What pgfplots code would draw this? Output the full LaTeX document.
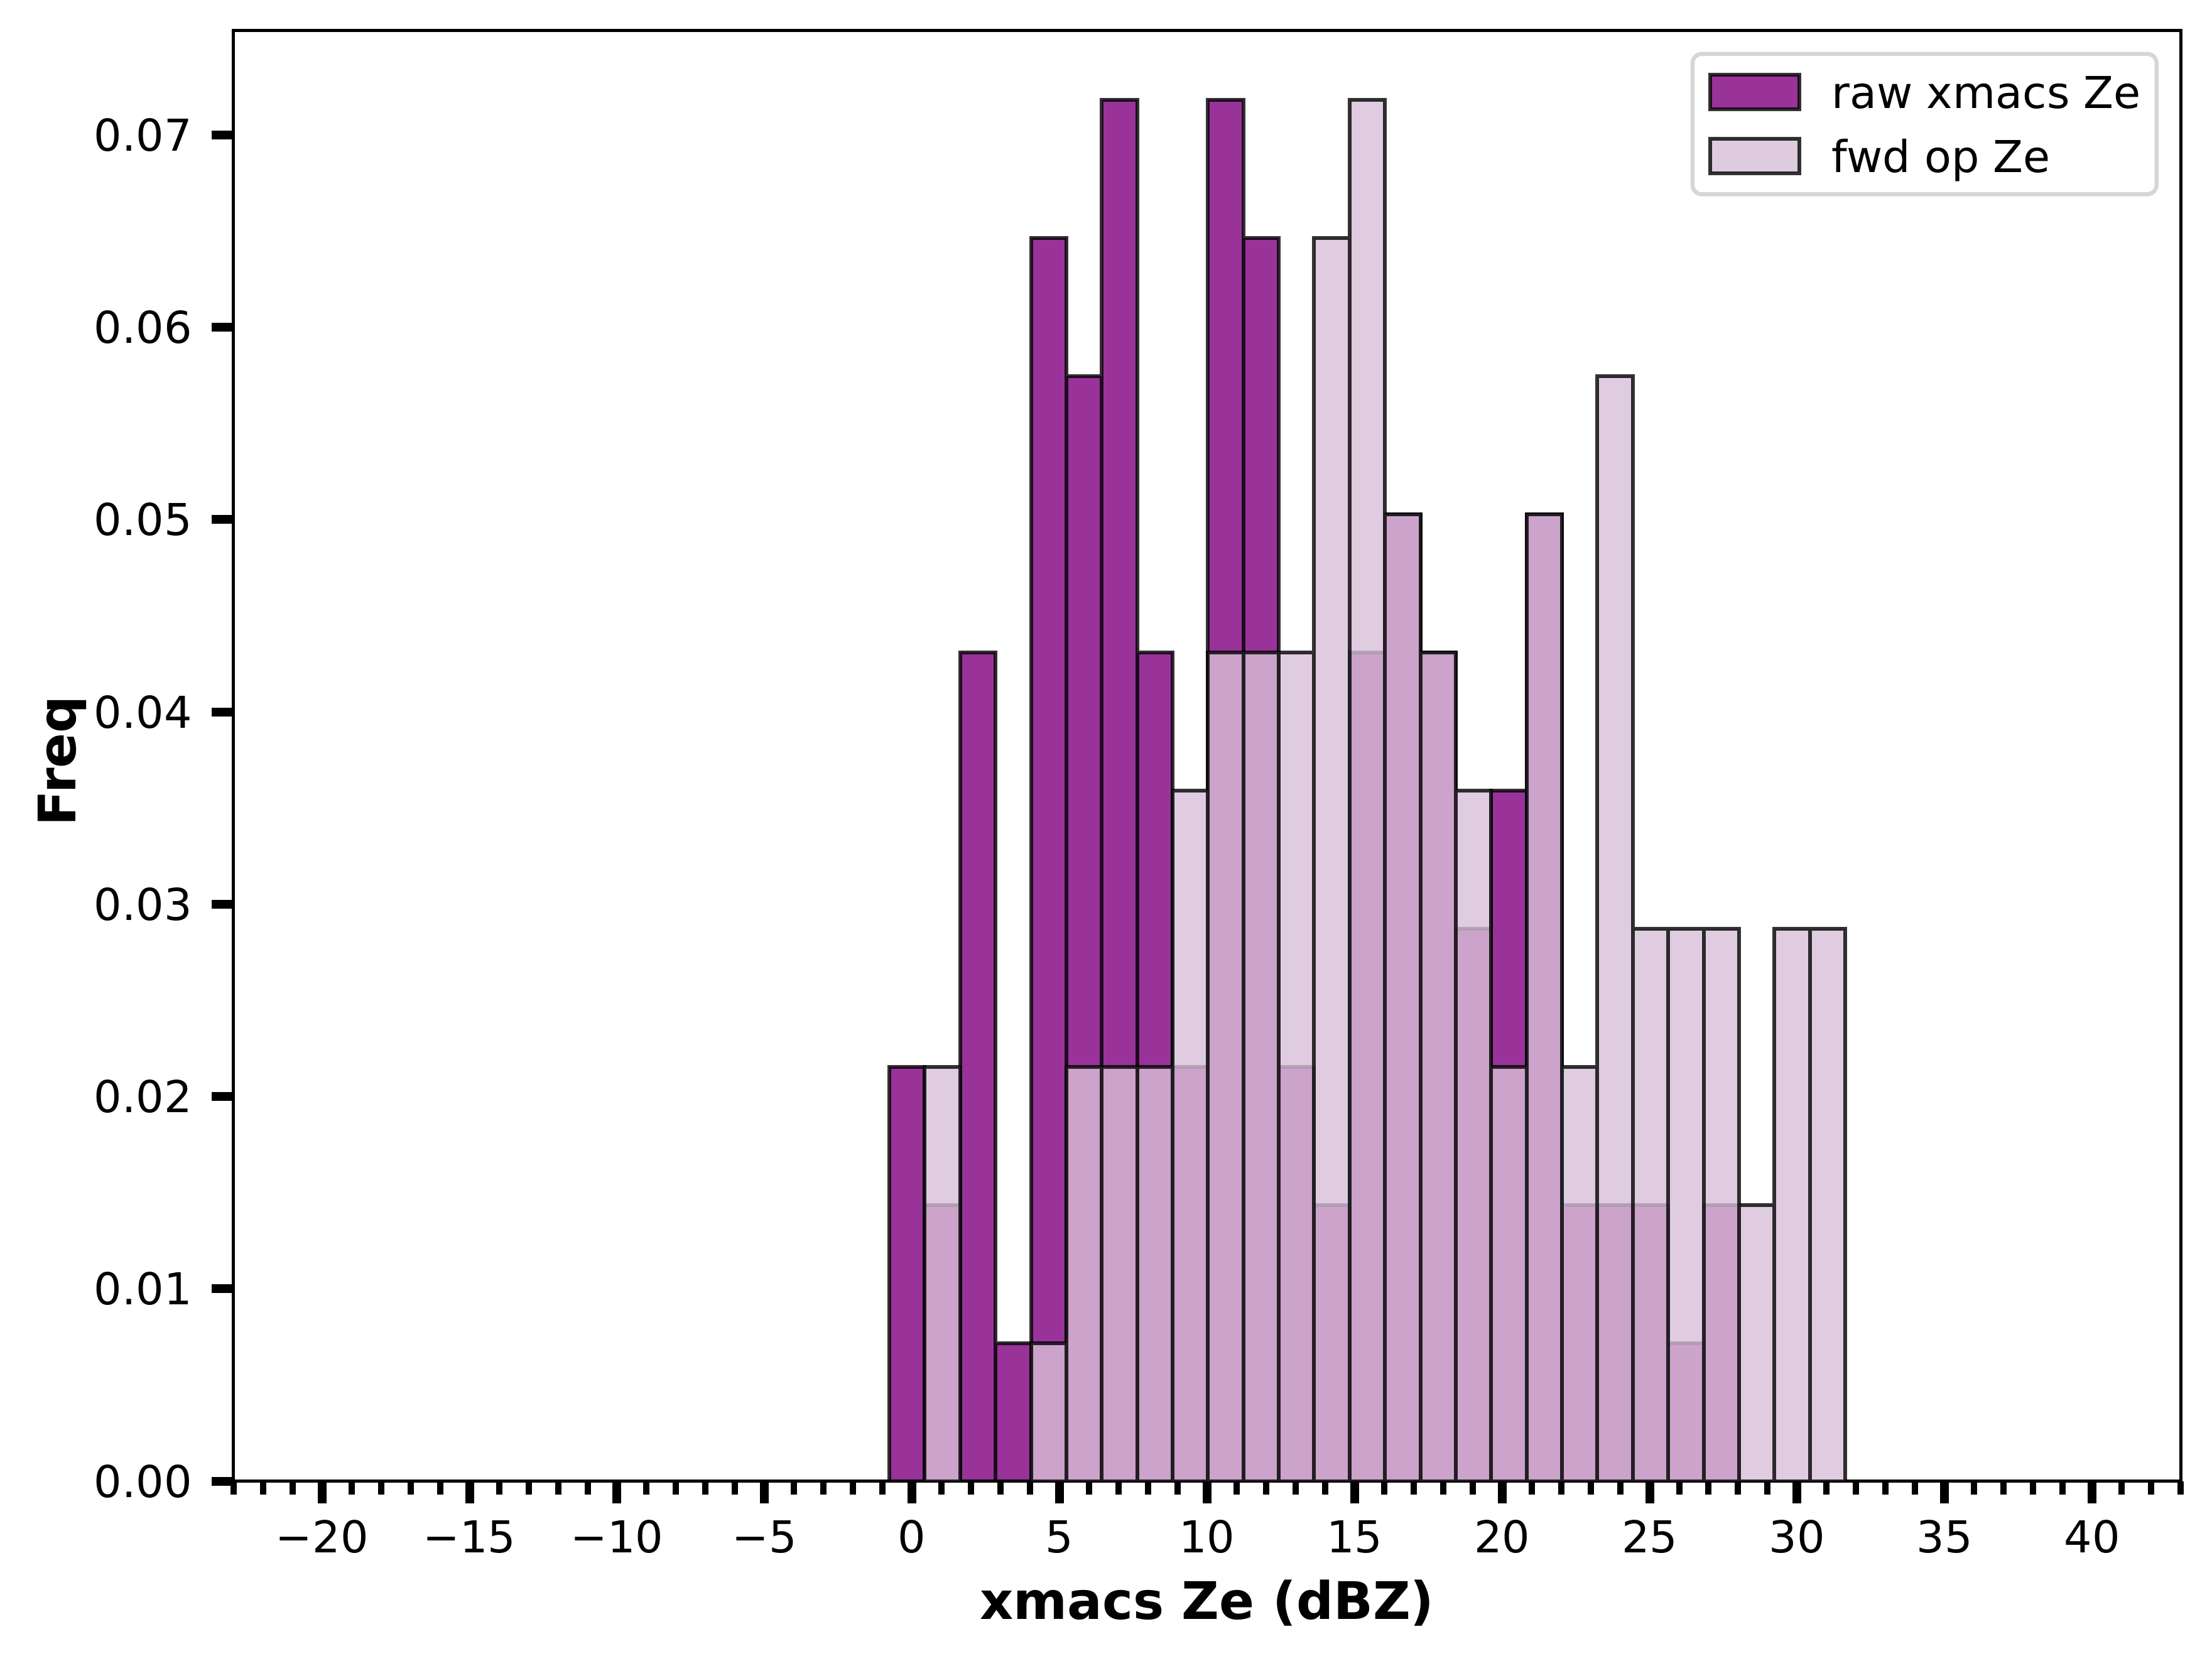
\documentclass[border=0pt]{standalone}
\usepackage{fontspec}
\setmainfont{DejaVu Sans}
\usepackage{pgfplots}
\pgfplotsset{compat=1.18}
\usepackage{pgfplotstable}
\usetikzlibrary{calc}
\definecolor{rawc}{RGB}{128,0,128}
\definecolor{fwdc}{RGB}{216,191,216}
\definecolor{legframe}{RGB}{214,214,214}

% bin left edges (width 1.2 dBZ) and density values; last row = right edge
\pgfplotstableread{
x y
-0.77 0.0215517
0.43 0.0143678
1.63 0.0431034
2.83 0.0071839
4.03 0.0646552
5.23 0.0574713
6.43 0.0718391
7.63 0.0431034
8.83 0.0215517
10.03 0.0718391
11.23 0.0646552
12.43 0.0215517
13.63 0.0143678
14.83 0.0431034
16.03 0.0502874
17.23 0.0431034
18.43 0.0287356
19.63 0.0359195
20.83 0.0502874
22.03 0.0143678
23.23 0.0143678
24.43 0.0143678
25.63 0.0071839
26.83 0.0143678
28.03 0
}\rawdata

\pgfplotstableread{
x y
-0.77 0
0.43 0.0215517
1.63 0
2.83 0
4.03 0.0071839
5.23 0.0215517
6.43 0.0215517
7.63 0.0215517
8.83 0.0359195
10.03 0.0431034
11.23 0.0431034
12.43 0.0431034
13.63 0.0646552
14.83 0.0718391
16.03 0.0502874
17.23 0.0431034
18.43 0.0359195
19.63 0.0215517
20.83 0.0502874
22.03 0.0215517
23.23 0.0574713
24.43 0.0287356
25.63 0.0287356
26.83 0.0287356
28.03 0.0143678
29.23 0.0287356
30.43 0.0287356
31.63 0
}\fwddata

\pgfplotsset{
  patchlegend/.style={legend image code/.code={%
    \draw[##1, line width=0.6pt, sharp corners] (0pt,-2.75pt) rectangle (14.2pt,2.75pt);
    \path[draw=none,fill=none] (0pt,0pt) -- (19.4pt,0pt);}},
}

\begin{document}
\begin{tikzpicture}
\begin{axis}[
  scale only axis,
  width=310pt, height=231pt,
  xmin=-23, xmax=43, ymin=0, ymax=0.07543,
  enlargelimits=false,
  scaled ticks=false,
  axis line style={line width=0.5pt},
  tick align=outside,
  tick pos=left,
  xtick={-20,-15,-10,-5,0,5,10,15,20,25,30,35,40},
  xticklabels={−20,−15,−10,−5,0,5,10,15,20,25,30,35,40},
  minor xtick={-23,-22,...,43},
  ytick={0,0.01,0.02,0.03,0.04,0.05,0.06,0.07},
  yticklabels={0.00,0.01,0.02,0.03,0.04,0.05,0.06,0.07},
  major tick length=3.5pt,
  minor tick length=2.15pt,
  major tick style={line width=1.4pt, black},
  minor tick style={line width=1.0pt, black},
  xticklabel style={font=\fontsize{7}{8.4}\selectfont, inner sep=0pt, anchor=base, yshift=-7.84pt},
  yticklabel style={font=\fontsize{7}{8.4}\selectfont, inner sep=0pt, anchor=east, xshift=-2.92pt},
  every axis x label/.style={at={(axis description cs:0.5,-0.09498)}, anchor=base, inner sep=0pt, font=\bfseries\fontsize{8.25}{9.9}\selectfont},
  every axis y label/.style={at={(axis description cs:-0.08097,0.49654)}, rotate=90, anchor=base, inner sep=0pt, font=\bfseries\fontsize{8.25}{9.9}\selectfont},
  xlabel={xmacs Ze (dBZ)},
  ylabel={Freq},
  legend cell align=left,
  legend style={at={(axis description cs:0.98871,0.98528)}, anchor=north east,
    draw=legframe, line width=0.65pt, rounded corners=1.5pt, fill=white,
    inner xsep=2.5pt, inner ysep=2.6pt, row sep=3.15pt, column sep=0pt,
    font=\fontsize{7}{8.4}\selectfont,
    nodes={inner sep=0pt, text height=6.1pt, text depth=0.9pt}},
]
\addplot[ybar interval, fill=rawc, fill opacity=0.8, draw=black, draw opacity=0.8, line width=0.6pt, patchlegend] table[x=x,y=y] {\rawdata};
\addlegendentry{raw xmacs Ze}
\addplot[ybar interval, fill=fwdc, fill opacity=0.8, draw=black, draw opacity=0.8, line width=0.6pt, patchlegend] table[x=x,y=y] {\fwddata};
\addlegendentry{fwd op Ze}
\end{axis}
\pgfresetboundingbox
\path[use as bounding box] ($(current axis.south west)+(-37.18pt,-28.54pt)$) rectangle ($(current axis.north east)+(5pt,4.86pt)$);
\end{tikzpicture}
\end{document}
